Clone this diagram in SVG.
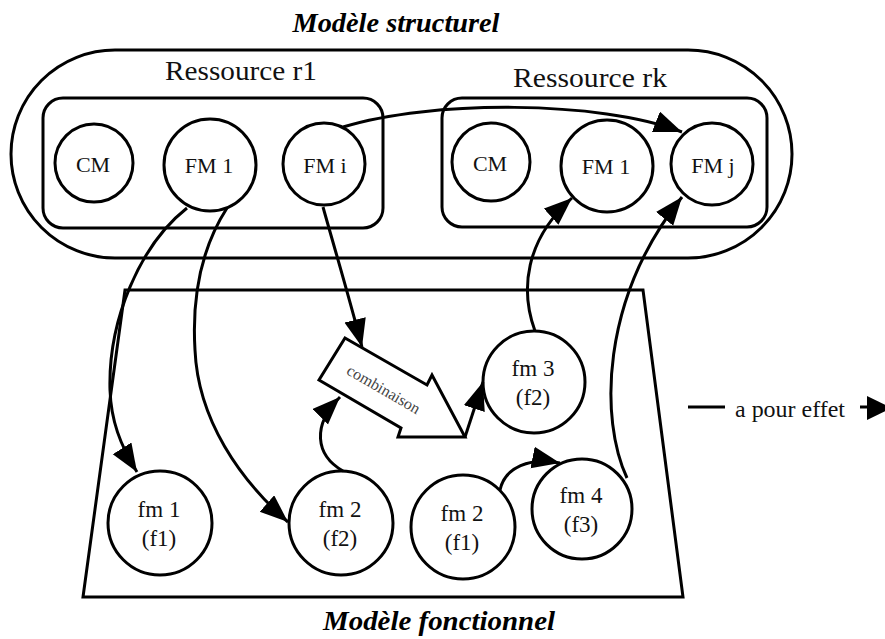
<svg xmlns="http://www.w3.org/2000/svg" width="885" height="639" viewBox="0 0 885 639">
<defs>
<style>
.sh{fill:none;stroke:#000;stroke-width:3}
.nd{fill:#fff;stroke:#000;stroke-width:3}
.cn{fill:none;stroke:#000;stroke-width:3}
.t{font-family:"Liberation Serif","Times New Roman",serif;fill:#111;text-anchor:middle}
.ti{font-family:"Liberation Serif","Times New Roman",serif;font-weight:bold;font-style:italic;fill:#000;text-anchor:middle}
</style>
<marker id="ah" markerUnits="userSpaceOnUse" markerWidth="30" markerHeight="24" refX="28" refY="11" orient="auto">
<path d="M0,0 L28,11 L0,22 z" fill="#000"/>
</marker>
</defs>
<rect width="885" height="639" fill="#fff"/>

<g id="structural-model">
<text class="ti" x="396" y="32" font-size="28" textLength="207" lengthAdjust="spacingAndGlyphs">Modèle structurel</text>
<rect class="sh" x="11" y="50" width="781" height="208" rx="104" ry="104"/>
</g>

<g id="ressource-r1">
<text class="t" x="241" y="80" font-size="27" textLength="152" lengthAdjust="spacingAndGlyphs">Ressource r1</text>
<rect class="sh" x="43" y="98" width="340" height="130" rx="20" ry="20"/>
</g>
<g id="ressource-rk">
<text class="t" x="590" y="87" font-size="27" textLength="154" lengthAdjust="spacingAndGlyphs">Ressource rk</text>
<rect class="sh" x="442" y="98" width="325" height="129" rx="20" ry="20"/>
</g>

<g id="functional-model">
<polygon class="sh" points="125,290 643,290 683,597 83,597"/>
<text class="ti" x="439" y="630" font-size="28" textLength="232" lengthAdjust="spacingAndGlyphs">Modèle fonctionnel</text>
</g>

<g id="r1-CM"><circle class="nd" cx="94" cy="163" r="39"/><text class="t" x="93" y="172" font-size="22">CM</text></g>
<g id="r1-FM1"><circle class="nd" cx="210" cy="165" r="46"/><text class="t" x="209" y="173" font-size="22">FM 1</text></g>
<g id="r1-FMi"><circle class="nd" cx="324" cy="164" r="41"/><text class="t" x="325" y="173" font-size="22">FM i</text></g>

<g id="rk-CM"><circle class="nd" cx="491" cy="162" r="39"/><text class="t" x="490" y="171" font-size="22">CM</text></g>
<g id="rk-FM1"><circle class="nd" cx="607" cy="166" r="46"/><text class="t" x="606" y="174" font-size="22">FM 1</text></g>
<g id="rk-FMj"><circle class="nd" cx="712" cy="164" r="41"/><text class="t" x="713" y="173" font-size="22">FM j</text></g>

<g id="fm1-f1"><circle class="nd" cx="160" cy="523" r="52"/><text class="t" x="159" y="517" font-size="23">fm 1</text><text class="t" x="159" y="546" font-size="23">(f1)</text></g>
<g id="fm2-f2"><circle class="nd" cx="341" cy="523" r="52"/><text class="t" x="340" y="517" font-size="23">fm 2</text><text class="t" x="340" y="546" font-size="23">(f2)</text></g>
<g id="fm2-f1"><circle class="nd" cx="463" cy="527" r="52"/><text class="t" x="462" y="521" font-size="23">fm 2</text><text class="t" x="462" y="550" font-size="23">(f1)</text></g>
<g id="fm4-f3"><circle class="nd" cx="582" cy="509" r="50"/><text class="t" x="581" y="503" font-size="23">fm 4</text><text class="t" x="581" y="532" font-size="23">(f3)</text></g>
<g id="fm3-f2"><circle class="nd" cx="534" cy="382" r="51"/><text class="t" x="533" y="376" font-size="23">fm 3</text><text class="t" x="533" y="405" font-size="23">(f2)</text></g>

<g id="combinaison">
<polygon class="nd" points="345,338 427,385 432,375 465,437 398,437 401,428 319,380"/>
<text x="381" y="394" font-family="'Liberation Serif','Times New Roman',serif" font-size="16" fill="#444" text-anchor="middle" transform="rotate(30 381 394)">combinaison</text>
</g>

<g id="connectors">
<path class="cn" d="M343,127 C430,100 600,100 682,132" marker-end="url(#ah)"/>
<path class="cn" d="M187,208 C140,245 108,320 110,390 C111,420 120,445 137,472" marker-end="url(#ah)"/>
<path class="cn" d="M227,208 C200,250 192,300 195,350 C198,420 240,480 288,522" marker-end="url(#ah)"/>
<path class="cn" d="M323,207 C335,250 350,300 362,347" marker-end="url(#ah)"/>
<path class="cn" d="M343,471 C315,455 312,425 340,397" marker-end="url(#ah)"/>
<path class="cn" d="M465,437 L483,382" marker-end="url(#ah)"/>
<path class="cn" d="M535,331 C520,290 525,240 572,198" marker-end="url(#ah)"/>
<path class="cn" d="M500,490 C505,467 530,457 560,463" marker-end="url(#ah)"/>
<path class="cn" d="M627,478 C600,420 600,300 682,197" marker-end="url(#ah)"/>
</g>

<g id="legend">
<line class="cn" x1="688" y1="407" x2="725" y2="407"/>
<text x="735" y="417" font-family="'Liberation Serif','Times New Roman',serif" font-size="23" fill="#111" textLength="110" lengthAdjust="spacingAndGlyphs">a pour effet</text>
<line class="cn" x1="860" y1="407" x2="872" y2="407"/>
<polygon points="867,396 892,408 867,420" fill="#000"/>
</g>
</svg>
